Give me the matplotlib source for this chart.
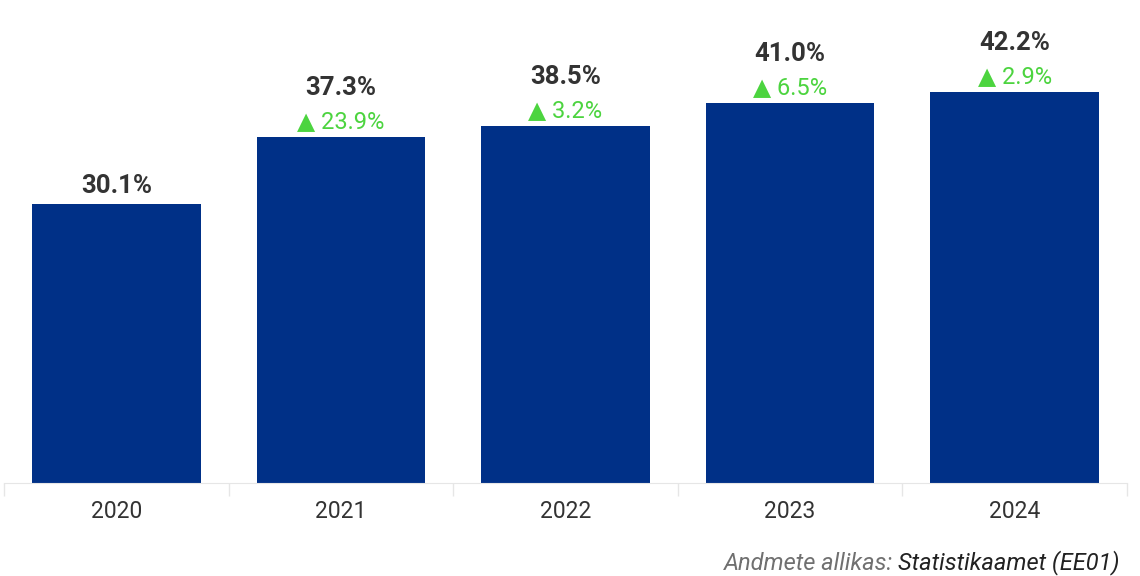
import matplotlib.pyplot as plt

years = ["2020", "2021", "2022", "2023", "2024"]
values = [30.1, 37.3, 38.5, 41.0, 42.2]
changes = [None, 23.9, 3.2, 6.5, 2.9]

bar_color = "#003087"
green = "#4cd43f"
fonts = ["Roboto", "DejaVu Sans"]
plt.rcParams["font.family"] = fonts

fig = plt.figure(figsize=(11.4, 5.76), dpi=100)
ax = fig.add_axes([4 / 1140, 93 / 576, 1123 / 1140, 483 / 576])

x = list(range(len(years)))
ax.bar(x, values, width=0.75, color=bar_color)
ax.set_xlim(-0.5, len(years) - 0.5)
ax.set_ylim(0, 52.1)

# labels above bars
for i, v in enumerate(values):
    if changes[i] is None:
        ax.annotate(f"{v:.1f}%", (i, v), xytext=(0, 11), textcoords="offset pixels",
                    ha="center", va="baseline", fontsize=18.5, fontweight="bold", color="#333333")
    else:
        ax.annotate(f"▲ {changes[i]:.1f}%", (i, v), xytext=(0, 9), textcoords="offset pixels",
                    ha="center", va="baseline", fontsize=17, color=green)
        ax.annotate(f"{v:.1f}%", (i, v), xytext=(0, 42), textcoords="offset pixels",
                    ha="center", va="baseline", fontsize=18.5, fontweight="bold", color="#333333")

for s in ["top", "right", "left"]:
    ax.spines[s].set_visible(False)
ax.spines["bottom"].set_color("#e6e6e6")
ax.set_yticks([])
ax.set_xticks(x)
ax.set_xticklabels(years, fontsize=16.5, color="#333333")
ax.tick_params(axis="x", which="major", length=0, pad=12)
ax.set_xticks([i - 0.5 for i in range(len(years) + 1)], minor=True)
ax.tick_params(axis="x", which="minor", length=9, color="#e6e6e6", width=1)

# source line, two colours
fig.canvas.draw()
src = fig.text(1120 / 1140, 1 - 563 / 576, "Statistikaamet (EE01)", ha="right", va="center",
               fontsize=17, style="italic", color="#222222")
fig.canvas.draw()
bb = src.get_window_extent()
fig.text(bb.x0 / 1140, 1 - 563 / 576, "Andmete allikas: ", ha="right", va="center",
         fontsize=17, style="italic", color="#707070")

fig.savefig("out.png", dpi=100)
